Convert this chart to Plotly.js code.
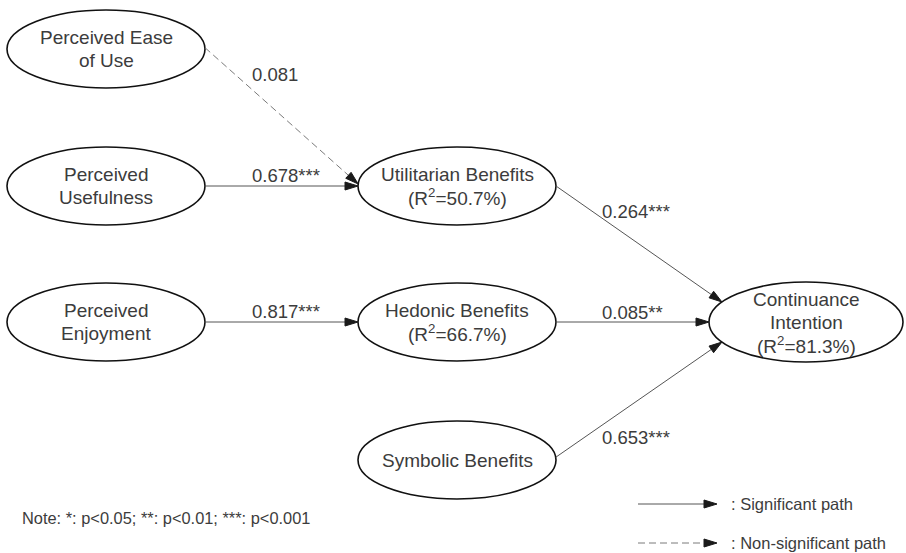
<!DOCTYPE html>
<html><head><meta charset="utf-8">
<script src="https://cdn.plot.ly/plotly-3.0.1.min.js"></script>
<style>html,body{margin:0;padding:0;background:#fff}#chart{width:906px;height:553px}</style>
</head><body><div id="chart"></div>
<script>
// ---------- data ----------
const nodeIds = ['PEOU', 'PU', 'PE', 'UB', 'HB', 'SB', 'CI'];
const nodeLabels = ['Perceived Ease<br>of Use', 'Perceived<br>Usefulness', 'Perceived<br>Enjoyment',
  'Utilitarian Benefits', 'Hedonic Benefits', 'Symbolic Benefits', 'Continuance<br>Intention'];
const nodeR2 = [null, null, null, 50.7, 66.7, null, 81.3];
const pathFrom = ['PEOU', 'PU', 'PE', 'UB', 'HB', 'SB'];
const pathTo = ['UB', 'UB', 'HB', 'CI', 'CI', 'CI'];
const pathCoef = [0.081, 0.678, 0.817, 0.264, 0.085, 0.653];
const pathStars = ['', '***', '***', '***', '**', '***'];
const pathSignificant = [false, true, true, true, true, true];
const noteText = 'Note: *: p<0.05; **: p<0.01; ***: p<0.001';
const legendLabels = [': Significant path', ': Non-significant path'];

// ---------- layout geometry (pixel-like axis units) ----------
const W = 906, H = 553;
const nodeGeom = {
  PEOU: {cx: 106, cy: 49, rx: 99, ry: 39},
  PU:   {cx: 106, cy: 186, rx: 99, ry: 39},
  PE:   {cx: 106, cy: 322, rx: 99, ry: 39},
  UB:   {cx: 457, cy: 186, rx: 99, ry: 39},
  HB:   {cx: 457, cy: 322, rx: 99, ry: 39},
  SB:   {cx: 457, cy: 460, rx: 99, ry: 39},
  CI:   {cx: 806, cy: 322, rx: 97, ry: 40}
};
// attach angles (deg, counter-clockwise, 0 = right) on source / target ellipses
const startAngle = [2, 0, 0, 0, 0, 4];
const endAngle = [177, 180, 180, 150, 180, 210];
const labelPos = [[250, 74], [250, 175], [250, 311], [600, 211], [600, 312], [600, 437]];
const legendY = [504, 543];
const legendX = [638, 717, 729];
const LINE_GAP = 22.5;

const FONT = '"Liberation Sans", Arial, sans-serif';
const TXT = '#3c3c3c';
const HEAD_L = 13, HEAD_W = 8;

function ellPoint(id, deg) {
  const g = nodeGeom[id], a = deg * Math.PI / 180;
  return [g.cx + g.rx * Math.cos(a), g.cy - g.ry * Math.sin(a)];
}

const shapes = [];
const annotations = [];

function arrow(p0, p1, dashed) {
  const dx = p1[0] - p0[0], dy = p1[1] - p0[1];
  const len = Math.hypot(dx, dy), ux = dx / len, uy = dy / len;
  const bx = p1[0] - ux * HEAD_L, by = p1[1] - uy * HEAD_L;
  shapes.push({type: 'line', xref: 'x', yref: 'y', x0: p0[0], y0: p0[1], x1: bx + ux * 2, y1: by + uy * 2,
    line: {color: dashed ? '#7a7a7a' : '#555', width: 1, dash: dashed ? '7px,4px' : 'solid'}});
  const px = -uy * HEAD_W / 2, py = ux * HEAD_W / 2;
  shapes.push({type: 'path', xref: 'x', yref: 'y',
    path: `M ${p1[0]} ${p1[1]} L ${bx + px} ${by + py} L ${bx - px} ${by - py} Z`,
    fillcolor: '#1a1a1a', line: {color: '#1a1a1a', width: 1}});
}

// nodes
nodeIds.forEach((id, i) => {
  const g = nodeGeom[id];
  shapes.push({type: 'circle', xref: 'x', yref: 'y', x0: g.cx - g.rx, x1: g.cx + g.rx, y0: g.cy - g.ry, y1: g.cy + g.ry,
    line: {color: '#111', width: 1.6}, fillcolor: 'rgba(0,0,0,0)'});
  const lines = nodeLabels[i].split('<br>');
  if (nodeR2[i] !== null) lines.push('(R<sup>2</sup>=' + nodeR2[i].toFixed(1) + '%)');
  const n = lines.length;
  lines.forEach((ln, k) => {
    annotations.push({x: g.cx, y: g.cy + (k - (n - 1) / 2) * LINE_GAP, xref: 'x', yref: 'y', text: ln, showarrow: false,
      xanchor: 'center', yanchor: 'middle', align: 'center', font: {family: FONT, size: 19, color: TXT}});
  });
});

// paths
pathFrom.forEach((from, i) => {
  const p0 = ellPoint(from, startAngle[i]);
  const p1 = ellPoint(pathTo[i], endAngle[i]);
  arrow(p0, p1, !pathSignificant[i]);
  annotations.push({x: labelPos[i][0], y: labelPos[i][1], xref: 'x', yref: 'y',
    text: pathCoef[i].toFixed(3) + pathStars[i],
    showarrow: false, xanchor: 'left', yanchor: 'middle', font: {family: FONT, size: 18.5, color: TXT}});
});

// legend
arrow([legendX[0], legendY[0]], [legendX[1], legendY[0]], false);
arrow([legendX[0], legendY[1]], [legendX[1], legendY[1]], true);
legendLabels.forEach((t, i) => {
  annotations.push({x: legendX[2], y: legendY[i], xref: 'x', yref: 'y', text: t, showarrow: false,
    xanchor: 'left', yanchor: 'middle', font: {family: FONT, size: 16.5, color: TXT}});
});

// note
annotations.push({x: 20, y: 518, xref: 'x', yref: 'y', text: noteText.replace(/</g, '&lt;'), showarrow: false,
  xanchor: 'left', yanchor: 'middle', font: {family: FONT, size: 16.4, color: TXT}});

const trace = {x: nodeIds.map(id => nodeGeom[id].cx), y: nodeIds.map(id => nodeGeom[id].cy),
  mode: 'markers', marker: {opacity: 0}, hoverinfo: 'skip', showlegend: false};

Plotly.newPlot('chart', [trace], {
  width: W, height: H, margin: {l: 0, r: 0, t: 0, b: 0},
  paper_bgcolor: '#fff', plot_bgcolor: '#fff', showlegend: false,
  xaxis: {range: [0, W], visible: false, fixedrange: true},
  yaxis: {range: [H, 0], visible: false, fixedrange: true},
  shapes: shapes, annotations: annotations
}, {staticPlot: true});
</script></body></html>
